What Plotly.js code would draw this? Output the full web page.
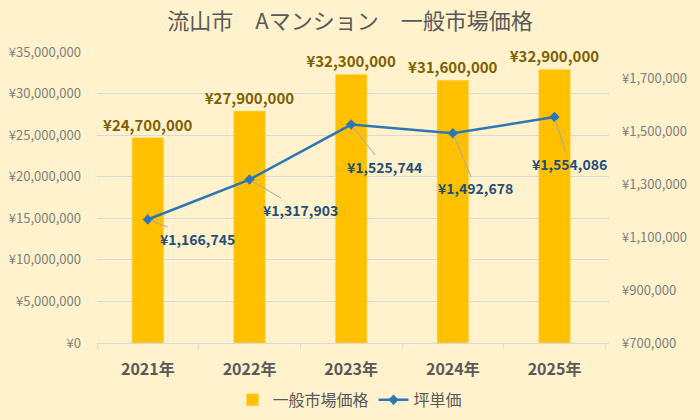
<!DOCTYPE html>
<html>
<head>
<meta charset="utf-8">
<script src="https://cdn.plot.ly/plotly-3.0.1.min.js"></script>
<style>
html,body{margin:0;padding:0;background:#FFF2CC;}
#chart{width:700px;height:420px;}
</style>
</head>
<body>
<div id="chart"></div>
<script>
const categories = ["2021年", "2022年", "2023年", "2024年", "2025年"];
const marketPrice = [24700000, 27900000, 32300000, 31600000, 32900000];
const tsuboPrice = [1166745, 1317903, 1525744, 1492678, 1554086];
const leftTicks = [0, 5000000, 10000000, 15000000, 20000000, 25000000, 30000000, 35000000];
const rightTicks = [700000, 900000, 1100000, 1300000, 1500000, 1700000];

const FONT = '"Noto Sans CJK JP", "Noto Sans", sans-serif';
const yen = v => '¥' + v.toLocaleString('en-US');

const barTrace = {
  type: 'bar',
  name: '一般市場価格',
  x: categories,
  y: marketPrice,
  marker: {color: '#FFC000', line: {color: '#FFD966', width: 0.5}},
  text: marketPrice.map(yen),
  textposition: 'outside',
  constraintext: 'none',
  textfont: {family: FONT, size: 15, color: '#7F6000', weight: 'bold'},
  cliponaxis: false,
  hoverinfo: 'skip'
};

const lineTrace = {
  type: 'scatter',
  mode: 'lines+markers',
  name: '坪単価',
  x: categories,
  y: tsuboPrice,
  yaxis: 'y2',
  line: {color: '#2E75B6', width: 2.5},
  marker: {symbol: 'diamond', size: 8, color: '#2E75B6'},
  cliponaxis: false,
  hoverinfo: 'skip'
};

// label offsets (pixels) for the per-point annotations
const labelOffsets = [[50, 19], [51, 30], [33, 42], [23, 55], [15, 47]];

const annotations = tsuboPrice.map((v, i) => ({
  x: categories[i],
  y: v,
  xref: 'x',
  yref: 'y2',
  text: yen(v),
  showarrow: true,
  arrowhead: 0,
  arrowwidth: 1,
  arrowcolor: '#A6A6A6',
  ax: labelOffsets[i][0],
  ay: labelOffsets[i][1],
  standoff: 3,
  font: {family: FONT, size: 14, color: '#1F4E79', weight: 'bold'}
}));

const layout = {
  width: 700,
  height: 420,
  paper_bgcolor: '#FFF2CC',
  plot_bgcolor: '#FFF2CC',
  margin: {l: 97, r: 91, t: 52, b: 77, autoexpand: false},
  title: {
    text: '流山市　Aマンション　一般市場価格',
    font: {family: FONT, size: 22, color: '#595959'},
    x: 0.5, xanchor: 'center',
    y: 0.95, yanchor: 'middle', yref: 'container'
  },
  bargap: 0.69,
  showlegend: true,
  legend: {
    orientation: 'h',
    x: 0.5, xanchor: 'center',
    xref: 'container',
    y: 0.048, yanchor: 'middle',
    yref: 'container',
    font: {family: FONT, size: 16, color: '#595959'},
    bgcolor: 'rgba(0,0,0,0)',
    itemwidth: 30,
    tracegroupgap: 0
  },
  xaxis: {
    type: 'category',
    tickfont: {family: FONT, size: 16, color: '#595959', weight: 'bold'},
    showline: true,
    linecolor: '#D9D9D9',
    linewidth: 1,
    ticks: 'outside',
    tickson: 'boundaries',
    tickcolor: '#D9D9D9',
    ticklen: 5,
    ticklabelstandoff: 12,
    showgrid: false,
    zeroline: false,
    automargin: false
  },
  yaxis: {
    range: [0, 35000000],
    tickvals: leftTicks,
    ticktext: leftTicks.map(yen),
    tickfont: {family: FONT, size: 13, color: '#7F7F7F'},
    showgrid: true,
    gridcolor: '#D9D9D9',
    gridwidth: 1,
    zeroline: false,
    showline: false,
    ticks: '',
    ticklabelstandoff: 15,
    automargin: false
  },
  yaxis2: {
    overlaying: 'y',
    side: 'right',
    range: [700000, 1800000],
    tickvals: rightTicks,
    ticktext: rightTicks.map(yen),
    tickfont: {family: FONT, size: 13, color: '#7F7F7F'},
    showgrid: false,
    zeroline: false,
    showline: false,
    ticks: '',
    ticklabelstandoff: 12,
    automargin: false
  },
  annotations: annotations
};

Plotly.newPlot('chart', [barTrace, lineTrace], layout, {displayModeBar: false, staticPlot: true});
</script>
</body>
</html>
